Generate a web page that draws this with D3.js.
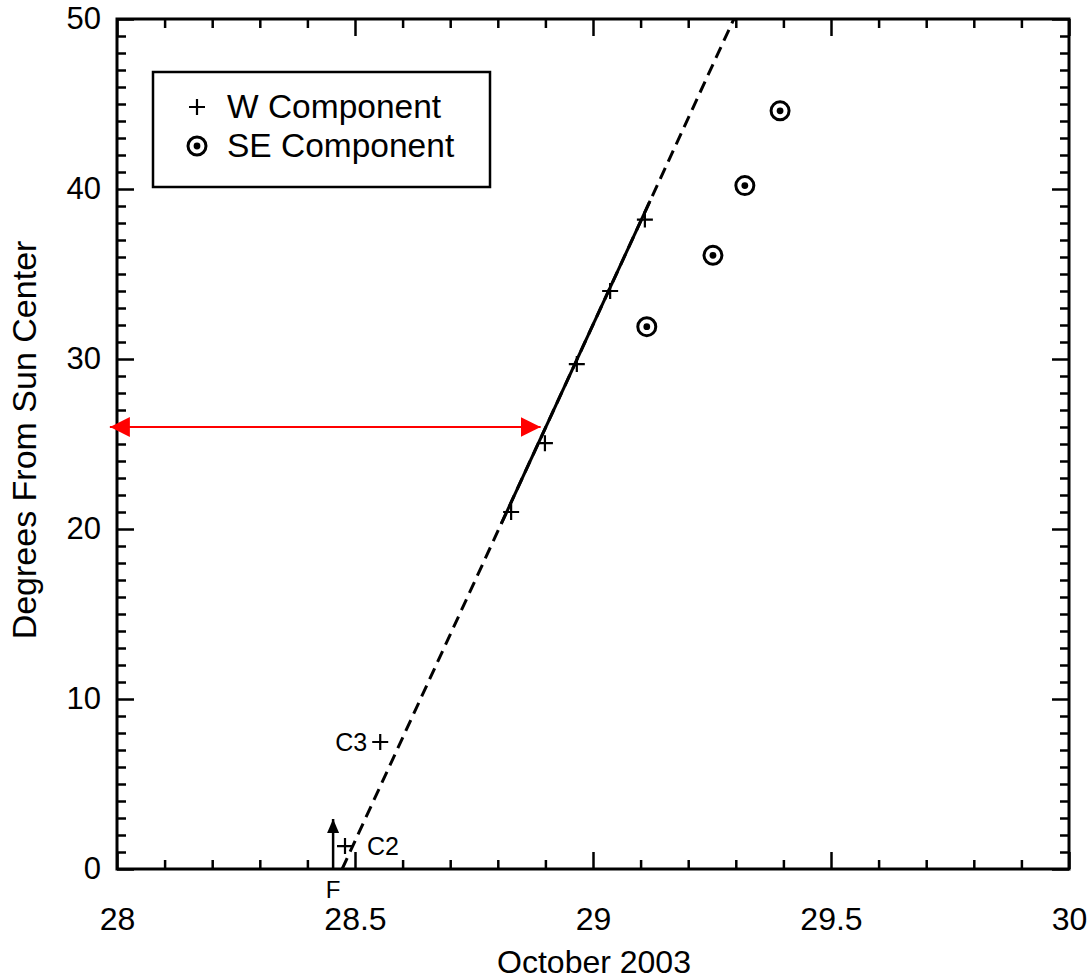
<!DOCTYPE html>
<html>
<head>
<meta charset="utf-8">
<script src="https://cdn.jsdelivr.net/npm/d3@7/dist/d3.min.js"></script>
<style>
  html, body { margin: 0; padding: 0; background: #fff; }
  svg { display: block; font-family: "Liberation Sans", Arial, Helvetica, sans-serif; }
</style>
</head>
<body>
<svg id="chart" width="1090" height="980"></svg>
<script>
// W component positions (day of October 2003, degrees from Sun center)
const wDays    = [28.479, 28.553, 28.828, 28.899, 28.966, 29.036, 29.109];
const wDegrees = [1.35,   7.47,   21.0,   25.05,  29.7,   34.0,   38.2];
// SE component positions
const seDays    = [29.113, 29.252, 29.319, 29.393];
const seDegrees = [31.9,   36.1,   40.2,   44.6];
// Fitted track of the W component: full extent (dashed) and fitted span (solid)
const fitDays     = [28.473, 29.296];
const fitDegrees  = [0, 50];
const solidDegrees = [20.3, 39.3];
// Annotations
const pointLabels = [{ text: "C3", day: 28.553, deg: 7.47, side: "left" },
                     { text: "C2", day: 28.479, deg: 1.35, side: "right" }];
const flareDay = 28.454, flareTop = 3.0;
const markerDegree = 26.0, markerDays = [27.985, 28.89];
// Axis ticks
const xMajorTicks = [28, 28.5, 29, 29.5, 30];
const yMajorTicks = [0, 10, 20, 30, 40, 50];
const xLabel = "October 2003";
const yLabel = "Degrees From Sun Center";
const legendItems = ["W Component", "SE Component"];

const svg = d3.select("#chart");
const plotLeft = 117, plotRight = 1069, plotTop = 19, plotBottom = 869;
const x = d3.scaleLinear().domain([28, 30]).range([plotLeft, plotRight]);
const y = d3.scaleLinear().domain([0, 50]).range([plotBottom, plotTop]);

const xMinor = d3.range(280, 301).map(v => v / 10).filter(v => !xMajorTicks.some(m => Math.abs(m - v) < 1e-6));
const yMinor = d3.range(0, 51).filter(v => v % 10 !== 0);

function styleAxis(g, fontSize) {
  g.select(".domain").remove();
  g.selectAll(".tick line").attr("stroke", "#000").attr("stroke-width", 2.5);
  g.selectAll("text").attr("font-size", fontSize).attr("fill", "#000")
   .attr("font-family", "\"Liberation Sans\", Arial, sans-serif");
}

// Bottom axis
svg.append("g").attr("transform", `translate(0,${plotBottom})`)
  .call(d3.axisBottom(x).tickValues(xMajorTicks).tickSizeInner(-17).tickSizeOuter(0)
        .tickPadding(61).tickFormat(d => d3.format("")(d)))
  .call(g => styleAxis(g, 32))
  .call(g => g.selectAll("text").attr("dy", "0"));
svg.append("g").attr("transform", `translate(0,${plotBottom})`)
  .call(d3.axisBottom(x).tickValues(xMinor).tickSizeInner(-9).tickSizeOuter(0).tickFormat(""))
  .call(g => styleAxis(g, 0));
// Top axis
svg.append("g").attr("transform", `translate(0,${plotTop})`)
  .call(d3.axisTop(x).tickValues(xMajorTicks).tickSizeInner(-17).tickSizeOuter(0).tickFormat(""))
  .call(g => styleAxis(g, 0));
svg.append("g").attr("transform", `translate(0,${plotTop})`)
  .call(d3.axisTop(x).tickValues(xMinor).tickSizeInner(-9).tickSizeOuter(0).tickFormat(""))
  .call(g => styleAxis(g, 0));
// Left axis
svg.append("g").attr("transform", `translate(${plotLeft},0)`)
  .call(d3.axisLeft(y).tickValues(yMajorTicks).tickSizeInner(-17).tickSizeOuter(0).tickPadding(16))
  .call(g => styleAxis(g, 31));
svg.append("g").attr("transform", `translate(${plotLeft},0)`)
  .call(d3.axisLeft(y).tickValues(yMinor).tickSizeInner(-9).tickSizeOuter(0).tickFormat(""))
  .call(g => styleAxis(g, 0));
// Right axis
svg.append("g").attr("transform", `translate(${plotRight},0)`)
  .call(d3.axisRight(y).tickValues(yMajorTicks).tickSizeInner(-17).tickSizeOuter(0).tickFormat(""))
  .call(g => styleAxis(g, 0));
svg.append("g").attr("transform", `translate(${plotRight},0)`)
  .call(d3.axisRight(y).tickValues(yMinor).tickSizeInner(-9).tickSizeOuter(0).tickFormat(""))
  .call(g => styleAxis(g, 0));

// Plot frame
svg.append("rect").attr("x", plotLeft).attr("y", plotTop)
  .attr("width", plotRight - plotLeft).attr("height", plotBottom - plotTop)
  .attr("fill", "none").attr("stroke", "#000").attr("stroke-width", 3);

// Axis titles
svg.append("text").attr("x", 594).attr("y", 973)
  .attr("text-anchor", "middle").attr("font-size", 32).text(xLabel);
svg.append("text").attr("transform", "translate(36,440) rotate(-90)")
  .attr("text-anchor", "middle").attr("font-size", 34).text(yLabel);

// Fitted track
const fitPts = fitDays.map((d, i) => [d, fitDegrees[i]]);
const dayAt = deg => fitDays[0] + (deg - fitDegrees[0]) * (fitDays[1] - fitDays[0]) / (fitDegrees[1] - fitDegrees[0]);
const line = d3.line().x(d => x(d[0])).y(d => y(d[1]));
svg.append("path").datum(fitPts).attr("d", line)
  .attr("fill", "none").attr("stroke", "#000").attr("stroke-width", 3)
  .attr("stroke-dasharray", "12,7");
svg.append("path").datum(solidDegrees.map(g => [dayAt(g), g])).attr("d", line)
  .attr("fill", "none").attr("stroke", "#000").attr("stroke-width", 3);

// Arrowhead markers
const defs = svg.append("defs");
defs.append("marker").attr("id", "redHead").attr("viewBox", "0 0 20 20")
  .attr("refX", 20).attr("refY", 10).attr("markerWidth", 20).attr("markerHeight", 20)
  .attr("markerUnits", "userSpaceOnUse").attr("orient", "auto-start-reverse")
  .append("path").attr("d", "M0,0 L20,10 L0,20 Z").attr("fill", "#ff0000");
defs.append("marker").attr("id", "blackHead").attr("viewBox", "0 0 12 14")
  .attr("refX", 6).attr("refY", 0).attr("markerWidth", 12).attr("markerHeight", 14)
  .attr("markerUnits", "userSpaceOnUse").attr("orient", "0")
  .append("path").attr("d", "M0,14 L6,0 L12,14 Z").attr("fill", "#000");

// Red double-headed marker
svg.append("line")
  .attr("x1", x(markerDays[0])).attr("x2", x(markerDays[1]))
  .attr("y1", y(markerDegree)).attr("y2", y(markerDegree))
  .attr("stroke", "#ff0000").attr("stroke-width", 2)
  .attr("marker-start", "url(#redHead)").attr("marker-end", "url(#redHead)");

// Flare time arrow
svg.append("line")
  .attr("x1", x(flareDay)).attr("x2", x(flareDay))
  .attr("y1", y(0)).attr("y2", y(flareTop) + 1)
  .attr("stroke", "#000").attr("stroke-width", 2.5)
  .attr("marker-end", "url(#blackHead)");
svg.append("text").attr("x", x(flareDay)).attr("y", 898)
  .attr("text-anchor", "middle").attr("font-size", 24).text("F");

// Plus markers
const plusPath = s => `M${-s},0H${s}M0,${-s}V${s}`;
svg.append("g").selectAll("path").data(wDays.map((d, i) => [d, wDegrees[i]]))
  .join("path")
  .attr("transform", d => `translate(${x(d[0])},${y(d[1])})`)
  .attr("d", plusPath(8)).attr("stroke", "#000").attr("stroke-width", 2.2).attr("fill", "none");

// Bullseye markers
const se = svg.append("g").selectAll("g").data(seDays.map((d, i) => [d, seDegrees[i]]))
  .join("g").attr("transform", d => `translate(${x(d[0])},${y(d[1])})`);
se.append("circle").attr("r", 9).attr("fill", "#fff").attr("stroke", "#000").attr("stroke-width", 3);
se.append("circle").attr("r", 3.4).attr("fill", "#000");

// Point labels
svg.append("g").selectAll("text").data(pointLabels).join("text")
  .attr("x", d => d.side === "left" ? x(d.day) - 13 : x(d.day) + 22)
  .attr("y", d => y(d.deg) + 9)
  .attr("text-anchor", d => d.side === "left" ? "end" : "start")
  .attr("font-size", 25).text(d => d.text);

// Legend
const legend = svg.append("g");
legend.append("rect").attr("x", 153).attr("y", 72).attr("width", 337).attr("height", 115)
  .attr("fill", "#fff").attr("stroke", "#000").attr("stroke-width", 2.5);
legend.append("path").attr("transform", "translate(197,107)").attr("d", plusPath(8))
  .attr("stroke", "#000").attr("stroke-width", 2.2);
legend.append("circle").attr("cx", 197).attr("cy", 146).attr("r", 9)
  .attr("fill", "#fff").attr("stroke", "#000").attr("stroke-width", 3);
legend.append("circle").attr("cx", 197).attr("cy", 146).attr("r", 3.4).attr("fill", "#000");
legend.selectAll("text").data(legendItems).join("text")
  .attr("x", 227).attr("y", (d, i) => 118 + i * 39)
  .attr("font-size", 33.5).text(d => d);
</script>
</body>
</html>
